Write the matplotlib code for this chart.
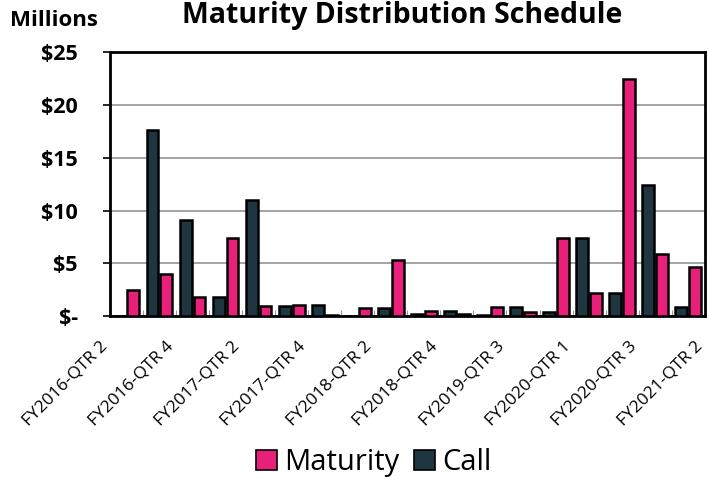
import matplotlib.pyplot as plt
import matplotlib.transforms as mtransforms
import numpy as np
from matplotlib.patches import Patch

# Quarter categories (only every other one is labelled on the axis)
quarters = [
    "FY2016-QTR 2", "FY2016-QTR 3", "FY2016-QTR 4", "FY2017-QTR 1",
    "FY2017-QTR 2", "FY2017-QTR 3", "FY2017-QTR 4", "FY2018-QTR 1",
    "FY2018-QTR 2", "FY2018-QTR 3", "FY2018-QTR 4", "FY2019-QTR 2",
    "FY2019-QTR 3", "FY2019-QTR 4", "FY2020-QTR 1", "FY2020-QTR 2",
    "FY2020-QTR 3", "FY2021-QTR 1", "FY2021-QTR 2",
]
# $ millions
maturity = [0, 2.5, 4.0, 1.8, 7.4, 0.95, 1.1, 0.1, 0.8, 5.3,
            0.5, 0.2, 0.9, 0.4, 7.4, 2.2, 22.5, 5.9, 4.7]
call = [0.05, 17.6, 9.1, 1.8, 11.0, 0.95, 1.1, 0.05, 0.8, 0.25,
        0.5, 0.15, 0.9, 0.4, 7.4, 2.2, 12.45, 0.9, 0]
y_ticks = [0, 5, 10, 15, 20, 25]
y_labels = ["$-", "$5", "$10", "$15", "$20", "$25"]

PINK = "#e8207a"
DARK = "#1f3640"

plt.rcParams["font.family"] = ["Open Sans", "DejaVu Sans"]

fig = plt.figure(figsize=(7.09, 4.79), dpi=100)
ax = fig.add_axes([0.155, 0.340, 0.839, 0.551])

x = np.arange(len(quarters))
w = 0.36
ax.bar(x - 0.29, maturity, w, color=PINK, edgecolor="black", linewidth=1.8, zorder=3)
ax.bar(x + 0.29, call, w, color=DARK, edgecolor="black", linewidth=1.8, zorder=3)

ax.set_xlim(0, len(quarters) - 1)
ax.set_ylim(0, 25)

ax.set_yticks(y_ticks)
ax.set_yticklabels(y_labels, fontsize=15.5, fontweight="bold")
ax.yaxis.grid(True, color="#8a8a8a", linewidth=1.1, zorder=0)
ax.tick_params(axis="y", direction="out", length=5, width=1.2, pad=18)

ax.set_xticks(x)
ax.set_xticklabels([q if i % 2 == 0 else "" for i, q in enumerate(quarters)], fontsize=12.5)
ax.tick_params(axis="x", direction="in", length=4, color="#999999", pad=20)
# nudge the rotated labels a little to the left so the last one stays inside
shift = mtransforms.ScaledTranslation(-5 / 100, 0, fig.dpi_scale_trans)
for lbl in ax.get_xticklabels():
    lbl.set_rotation(45)
    lbl.set_ha("right")
    lbl.set_va("center")
    lbl.set_rotation_mode("anchor")
    lbl.set_transform(lbl.get_transform() + shift)

for s in ax.spines.values():
    s.set_color("black")
    s.set_linewidth(2)

fig.text(0.014, 0.958, "Millions", fontsize=16, fontweight="bold", va="center")
fig.text(0.567, 0.968, "Maturity Distribution Schedule", fontsize=20.5,
         fontweight="bold", ha="center", va="center")

handles = [Patch(facecolor=PINK, edgecolor="black", linewidth=1.2, label="Maturity"),
           Patch(facecolor=DARK, edgecolor="black", linewidth=1.2, label="Call")]
fig.legend(handles=handles, loc="center", bbox_to_anchor=(0.527, 0.034), ncol=2,
           frameon=False, fontsize=21, handlelength=0.72, handleheight=0.72,
           handletextpad=0.25, columnspacing=0.5)

fig.savefig("out.png", dpi=100)
